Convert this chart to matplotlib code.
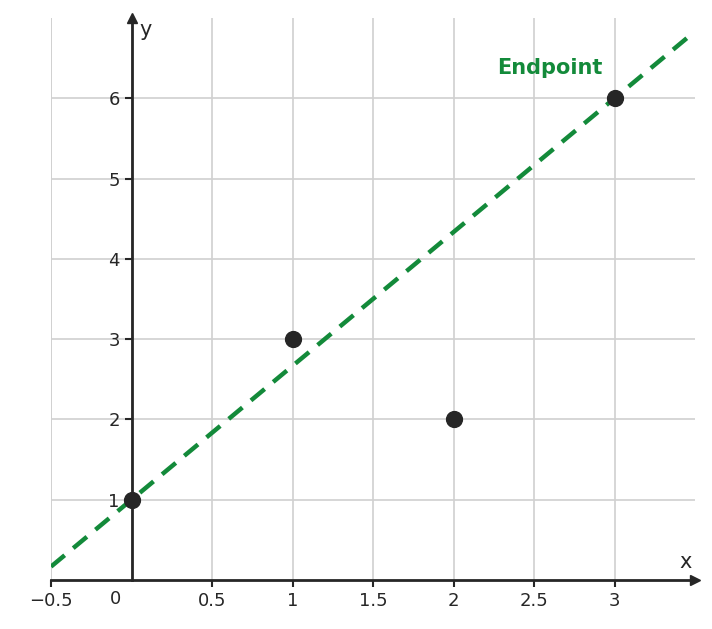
import matplotlib
matplotlib.use("Agg")
import matplotlib.pyplot as plt
import numpy as np

px = [0, 1, 2, 3]
py = [1, 3, 2, 6]
xticks = [-0.5, 0.5, 1, 1.5, 2, 2.5, 3]
yticks = [1, 2, 3, 4, 5, 6]
green = "#138a3a"
dark = "#262626"

fig = plt.figure(figsize=(7.12, 6.29), dpi=100)
ax = fig.add_axes([51/712, 49/629, 644/712, 562/629])
ax.set_xlim(-0.5, 3.5)
ax.set_ylim(0, 7)

for s in ["top", "right"]:
    ax.spines[s].set_visible(False)
ax.spines["left"].set_position(("data", 0))
ax.spines["bottom"].set_position(("data", 0))
for s in ["left", "bottom"]:
    ax.spines[s].set_linewidth(2)
    ax.spines[s].set_color(dark)

ax.plot(1, 0, ">", color=dark, transform=ax.get_yaxis_transform(), clip_on=False, ms=7)
ax.plot(0, 1, "^", color=dark, transform=ax.get_xaxis_transform(), clip_on=False, ms=7)

ax.set_xticks(xticks)
ax.set_yticks(yticks)
ax.set_xticklabels([("\u22120.5" if t == -0.5 else f"{t:g}") for t in xticks])
ax.tick_params(labelsize=13, colors=dark, width=1.5, length=5)
ax.text(-0.1, -0.12, "0", fontsize=13, color=dark, ha="center", va="top",
        transform=ax.transData)
ax.grid(True, color="#d0d0d0", lw=1.2)
ax.axvline(-0.5, color="#d0d0d0", lw=1.2)
ax.axvline(0, color="#d0d0d0", lw=1.2, zorder=0)
ax.set_axisbelow(True)

# Endpoint line through first and last points
slope = (py[-1] - py[0]) / (px[-1] - px[0])
xs = np.array([-0.5, 3.5])
ax.plot(xs, py[0] + slope * (xs - px[0]), "--", color=green, lw=3.2, dashes=(4, 2.5))
ax.scatter(px, py, s=130, color=dark, zorder=5, clip_on=False)
ax.text(2.6, 6.3, "Endpoint", color=green, fontsize=15, fontweight="bold", ha="center")

ax.text(3.44, 0.1, "x", fontsize=15, color=dark, ha="center", va="bottom")
ax.text(0.05, 6.85, "y", fontsize=15, color=dark, ha="left", va="center")

fig.savefig("out.png", dpi=100)
